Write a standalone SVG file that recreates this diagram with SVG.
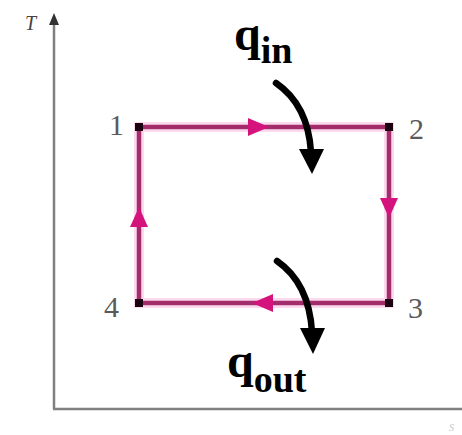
<svg xmlns="http://www.w3.org/2000/svg" width="462" height="435" viewBox="0 0 462 435">
<style>
.axis{stroke:#808080;stroke-width:2.5;fill:none}
.halo{stroke:#f7c2e0;stroke-width:10;fill:none;opacity:0.6}
.edge{stroke:#a32c6c;stroke-width:4.5;fill:none}
.ah{fill:#d4147c}
.dot{fill:#1a0010}
.num{font-family:"Liberation Serif","DejaVu Serif",serif;font-size:30px;fill:#5a5a5a}
.q{font-family:"Liberation Serif","DejaVu Serif",serif;font-weight:bold;fill:#000}
.heat{stroke:#000;stroke-width:6.5;fill:none;stroke-linecap:round}
</style>
<rect width="462" height="435" fill="#fff"/>
<g id="axes">
<line class="axis" x1="54" y1="22" x2="54" y2="409"/>
<line class="axis" x1="53" y1="409" x2="462" y2="409"/>
<polygon points="54,13 49,25 59,25" fill="#333"/>
<text x="25" y="30" font-family="Liberation Serif, serif" font-style="italic" font-size="20" fill="#444">T</text>
<text x="449" y="431" font-family="Liberation Serif, serif" font-style="italic" font-size="14" fill="#d0d0d0">s</text>
</g>
<g id="connectors">
<path class="halo" d="M139,127 H389 V303 H139 Z"/>
<path class="edge" d="M139,127 H389 V303 H139 Z"/>
<polygon class="ah" points="269,127 248,118 248,136"/>
<polygon class="ah" points="389,218 380,198 398,198"/>
<polygon class="ah" points="252,303 273,294 273,312"/>
<polygon class="ah" points="139,207 130,227 148,227"/>
</g>
<g id="node1"><rect class="dot" x="135" y="123" width="8" height="8"/><text class="num" x="109" y="135">1</text></g>
<g id="node2"><rect class="dot" x="385" y="123" width="8" height="8"/><text class="num" x="409" y="139">2</text></g>
<g id="node3"><rect class="dot" x="385" y="299" width="8" height="8"/><text class="num" x="408" y="318">3</text></g>
<g id="node4"><rect class="dot" x="135" y="299" width="8" height="8"/><text class="num" x="104" y="317">4</text></g>
<g id="qin">
<text class="q" x="234" y="50" font-size="48">q<tspan font-size="38" dy="13">in</tspan></text>
<path class="heat" d="M276,83 Q308,105 311,152"/>
<polygon points="312,174 299,149 324,149" fill="#000"/>
</g>
<g id="qout">
<text class="q" x="227" y="377" font-size="48">q<tspan font-size="38" dy="15">out</tspan></text>
<path class="heat" d="M277,261 Q309,283 312,332"/>
<polygon points="313,354 300,328 325,328" fill="#000"/>
</g>
</svg>
